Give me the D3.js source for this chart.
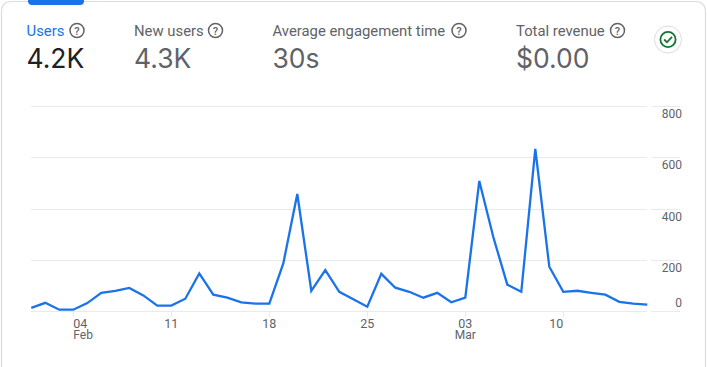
<!DOCTYPE html>
<html><head><meta charset="utf-8">
<script src="https://cdn.jsdelivr.net/npm/d3@7"></script>
<style>
html,body{margin:0;padding:0;background:#fff;overflow:hidden}
svg{display:block}
text{font-family:Roboto,Arial,sans-serif}
</style></head><body><div id="chart"></div>
<script>
const users=[12,32,5,5,31,71,79,90,61,21,21,48,147,64,52,34,29,29,186,457,79,160,75,46,17,145,91,75,52,71,34,52,508,289,103,75,633,173,75,79,71,64,36,29,25];
const startDate=new Date(2024,1,1);
const yTicks=[0,200,400,600,800];
const xTickDates=[new Date(2024,1,4),new Date(2024,1,11),new Date(2024,1,18),new Date(2024,1,25),new Date(2024,2,3),new Date(2024,2,10)];
const xTickLabels=["04","11","18","25","03","10"];
const monthLabels=["Feb","","","","Mar",""];
const metricNames=["Users","New users","Average engagement time","Total revenue"];
const metricValues=["4.2K","4.3K","30s","$0.00"];

const svg=d3.select("#chart").append("svg").attr("width",707).attr("height",367);
// card
svg.append("path").attr("d","M1.5,367 V12 Q1.5,1.5 12,1.5 H695 Q705.5,1.5 705.5,12 V367")
  .attr("fill","#fff").attr("stroke","#dadce0").attr("stroke-width",1.2);
// active tab
svg.append("path").attr("d","M28,0 H84 V1 Q84,5 80,5 H32 Q28,5 28,1 Z").attr("fill","#1a73e8");

const x=d3.scaleTime().domain([startDate,new Date(2024,2,16)]).range([31.3,647.3]);
const y=d3.scaleLinear().domain([0,800]).range([311,106.2]);

// grid
const grid=svg.append("g");
grid.selectAll("line.a").data(yTicks).join("line").attr("class","a")
  .attr("x1",31).attr("x2",647).attr("y1",d=>Math.round(y(d))+.5).attr("y2",d=>Math.round(y(d))+.5)
  .attr("stroke","#e8eaed");
grid.selectAll("line.b").data(yTicks).join("line").attr("class","b")
  .attr("x1",651).attr("x2",680).attr("y1",d=>Math.round(y(d))+.5).attr("y2",d=>Math.round(y(d))+.5)
  .attr("stroke","#e8eaed");
// y labels
svg.append("g").selectAll("text").data(yTicks).join("text")
  .attr("x",682).attr("text-anchor","end")
  .attr("y",d=>d===0?y(d)-4:y(d)+12)
  .attr("font-size",12).attr("fill","#5f6368").text(d=>d);
// x ticks
const xg=svg.append("g");
const lastTick=xTickDates.length-1;
const labelAnchor=i=>i===0?"start":i===lastTick?"end":"middle";
xg.selectAll("line").data(xTickDates).join("line")
  .attr("x1",d=>Math.round(x(d))+.5).attr("x2",d=>Math.round(x(d))+.5).attr("y1",311).attr("y2",317)
  .attr("stroke","#e8eaed");
xg.selectAll("text.d").data(xTickDates).join("text").attr("class","d")
  .attr("x",d=>x(d)).attr("y",327.5).attr("text-anchor",(d,i)=>labelAnchor(i))
  .attr("font-size",12.5).attr("fill","#5f6368").text((d,i)=>xTickLabels[i]);
xg.selectAll("text.m").data(xTickDates.filter((d,i)=>monthLabels[i])).join("text").attr("class","m")
  .attr("x",d=>x(d)).attr("y",339).attr("text-anchor",(d,i)=>i===0?"start":"middle")
  .attr("font-size",12).attr("fill","#5f6368").text((d,i)=>monthLabels.filter(Boolean)[i]);
// line
const line=d3.line().x((d,i)=>x(d3.timeDay.offset(startDate,i))).y(d=>y(d));
svg.append("path").datum(users).attr("d",line).attr("fill","none")
  .attr("stroke","#1a73e8").attr("stroke-width",2.3).attr("stroke-linejoin","miter");

// metric headers
const mx=[26.5,134,272.5,516];
const iconX=[77,215.5,459,617.5];
const mColor=["#1a73e8","#5f6368","#5f6368","#5f6368"];
const vColor=["#202124","#5f6368","#5f6368","#5f6368"];
const m=svg.append("g");
metricNames.forEach((n,i)=>{
  m.append("text").attr("x",mx[i]).attr("y",36).attr("font-size",14.85).attr("fill",mColor[i]).text(n);
  m.append("text").attr("x",mx[i]).attr("y",68.3).attr("font-size",26.5).attr("fill",vColor[i])
    .style("font-family","Inter, Roboto, sans-serif").text(metricValues[i]);
  const g=m.append("g").attr("transform",`translate(${iconX[i]},30.5)`);
  g.append("circle").attr("r",7).attr("fill","none").attr("stroke","#5f6368").attr("stroke-width",1.5);
  g.append("text").attr("text-anchor","middle").attr("y",4).attr("font-size",11).attr("font-weight",500).attr("fill","#5f6368").text("?");
});
// check button
const c=svg.append("g").attr("transform","translate(668,39.5)");
c.append("circle").attr("r",13.5).attr("fill","#fff").attr("stroke","#dadce0");
c.append("circle").attr("r",7.6).attr("fill","none").attr("stroke","#137333").attr("stroke-width",1.8);
c.append("path").attr("d","M-3.8,0 L-1,2.8 L4,-2.6").attr("fill","none").attr("stroke","#137333").attr("stroke-width",1.8);
</script></body></html>
